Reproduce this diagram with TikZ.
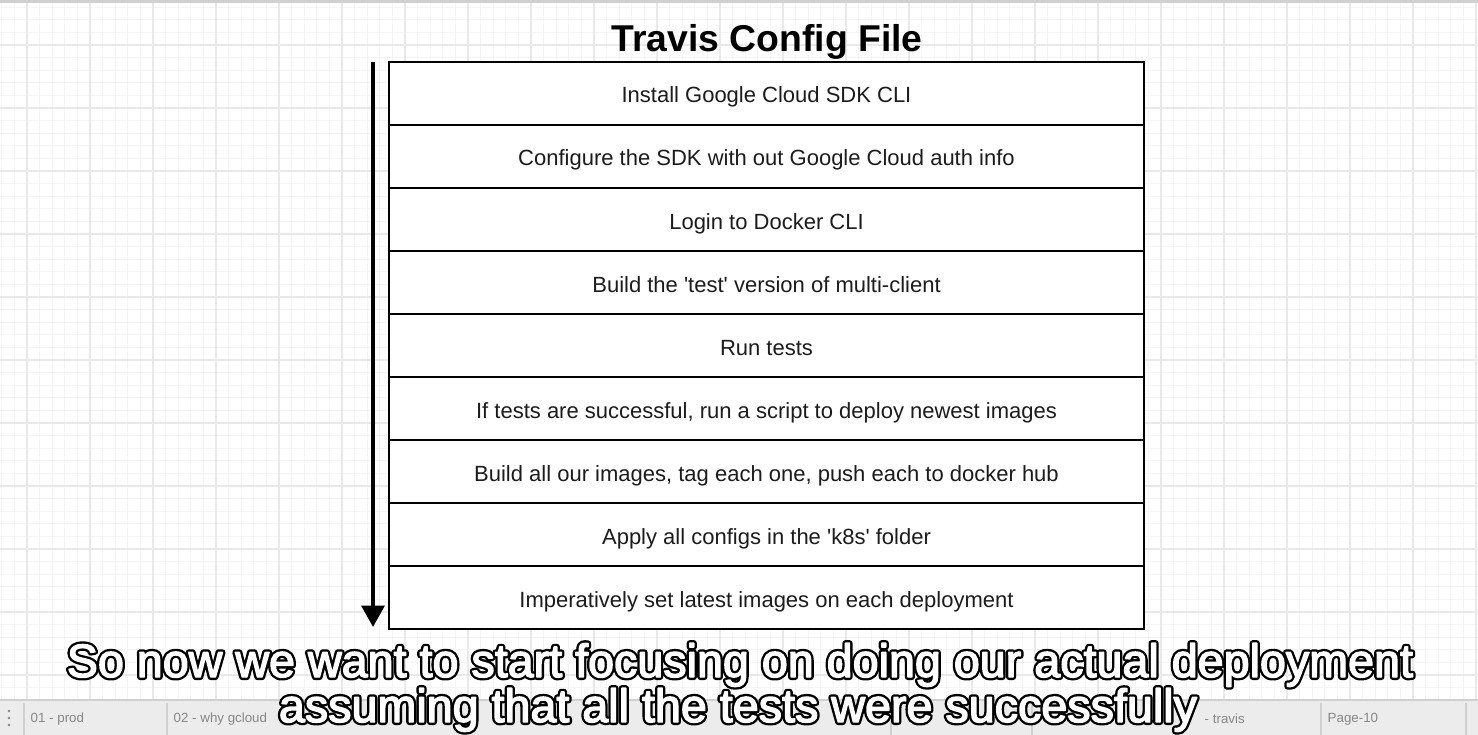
\documentclass[tikz,border=0pt]{standalone}
\usepackage{fontspec}
\setmainfont{Liberation Sans}
\newfontfamily\capback[FakeBold=13]{Liberation Sans}
\newfontfamily\capfront[FakeBold=3]{Liberation Sans}
\usetikzlibrary{arrows.meta}
\definecolor{gridminor}{RGB}{245,245,245}
\definecolor{gridmajor}{RGB}{233,233,233}
\definecolor{steptext}{RGB}{28,28,28}
\definecolor{tabbar}{RGB}{236,236,236}
\definecolor{tabline}{RGB}{208,208,208}
\definecolor{tabtext}{RGB}{135,135,135}

\begin{document}
\begin{tikzpicture}[x=0.75pt, y=-0.75pt,
    stepbox/.style={rectangle, draw=black, fill=white, line width=1.9pt,
        minimum width=566.25pt, minimum height=47.25pt, outer sep=0pt,
        text height=17pt, text depth=2.75pt,
        font=\fontsize{16.5}{19}\selectfont, text=steptext},
    flow/.style={-{Triangle[width=17pt, length=16pt]}, line width=3pt},
    caption/.style={anchor=base, inner sep=0pt, line join=round, line cap=round},
    tab/.style={anchor=west, font=\fontsize{10}{12}\selectfont, text=tabtext}
]
\useasboundingbox (0,0) rectangle (1478,735);
\fill[white] (0,0) rectangle (1478,735);

% Background grid
\foreach \gx in {1.8,14.4,...,1478} \draw[gridminor, line width=0.75pt] (\gx,0) -- (\gx,700);
\foreach \gy in {7.2,19.8,...,700} \draw[gridminor, line width=0.75pt] (0,\gy) -- (1478,\gy);
\foreach \gx in {27,90,...,1478} \draw[gridmajor, line width=0.9pt] (\gx,0) -- (\gx,700);
\foreach \gy in {45,108,...,700} \draw[gridmajor, line width=0.9pt] (0,\gy) -- (1478,\gy);
\fill[tabline] (0,0) rectangle (1478,3);

% Title
\node[font=\fontsize{28}{32}\selectfont\bfseries] (title) at (767,42) {Travis Config File};

% Steps (top to bottom)
\node[stepbox] (s1) at (766.5, 93.5) {Install Google Cloud SDK CLI};
\node[stepbox] (s2) at (766.5,156.5) {Configure the SDK with out Google Cloud auth info};
\node[stepbox] (s3) at (766.5,219.5) {Login to Docker CLI};
\node[stepbox] (s4) at (766.5,282.5) {Build the \textquotesingle test\textquotesingle{} version of multi-client};
\node[stepbox] (s5) at (766.5,345.5) {Run tests};
\node[stepbox] (s6) at (766.5,408.5) {If tests are successful, run a script to deploy newest images};
\node[stepbox] (s7) at (766.5,471.5) {Build all our images, tag each one, push each to docker hub};
\node[stepbox] (s8) at (766.5,534.5) {Apply all configs in the \textquotesingle k8s\textquotesingle{} folder};
\node[stepbox] (s9) at (766.5,597.5) {Imperatively set latest images on each deployment};

% Order arrow
\coordinate (flowtop) at (373,62);
\coordinate (flowend) at (373,627);
\draw[flow] (flowtop) -- (flowend);

% Tab bar
\fill[tabbar] (0,700) rectangle (1478,735);
\draw[tabline, line width=0.9pt] (0,700) -- (1478,700);
\foreach \tx in {24,167,891,1032,1321,1466} \draw[tabline, line width=0.9pt] (\tx,703) -- (\tx,735);
\foreach \ty in {711,718,725} \fill[tabtext] (9,\ty) circle (1.4);
\node[tab] (tab1) at (26,719) {01 - prod};
\node[tab] (tab2) at (169,719) {02 - why gcloud};
\node[tab] (tab8) at (1200,719) {- travis};
\node[tab] (tab9) at (1323,719) {Page-10};

% Subtitles: black outline under white letters
\coordinate (cap1) at (740,677);
\coordinate (cap2) at (738,722);
\node[caption, font=\capback\fontsize{35}{40}\selectfont, text=black] (sub1back) at (cap1) {So now we want to start focusing on doing our actual deployment};
\node[caption, font=\capback\fontsize{35}{40}\selectfont, text=black] (sub2back) at (cap2) {assuming that all the tests were successfully};
\node[caption, font=\capfront\fontsize{35}{40}\selectfont, text=white] (sub1) at (cap1) {So now we want to start focusing on doing our actual deployment};
\node[caption, font=\capfront\fontsize{35}{40}\selectfont, text=white] (sub2) at (cap2) {assuming that all the tests were successfully};

\end{tikzpicture}
\end{document}
